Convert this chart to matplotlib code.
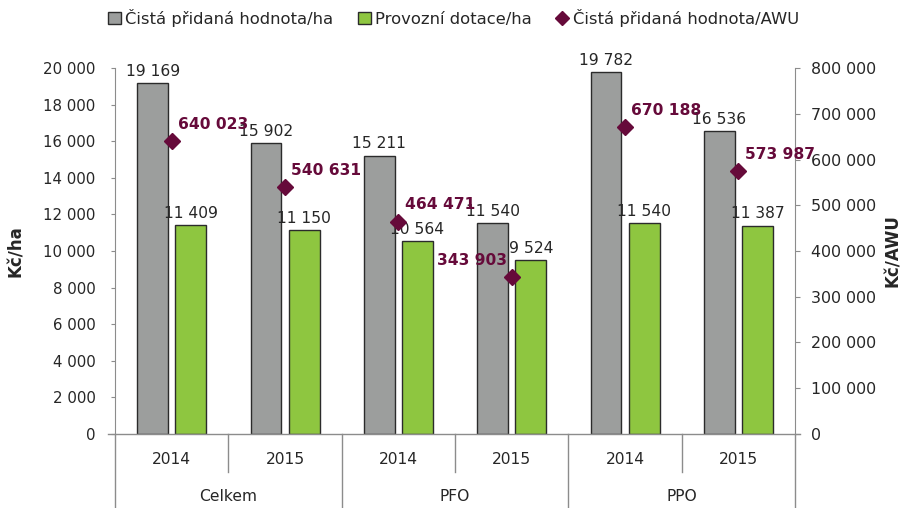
import numpy as np
import matplotlib.pyplot as plt
import matplotlib.transforms as mtransforms
from matplotlib.lines import Line2D
from matplotlib.patches import Patch

plt.rcParams['font.family'] = ['DejaVu Sans']

groups = ['Celkem', 'PFO', 'PPO']
years = ['2014', '2015', '2014', '2015', '2014', '2015']
cpv_ha = [19169, 15902, 15211, 11540, 19782, 16536]
dotace_ha = [11409, 11150, 10564, 9524, 11540, 11387]
cpv_awu = [640023, 540631, 464471, 343903, 670188, 573987]

GRAY = '#9C9E9D'
GREEN = '#8EC640'
MAROON = '#660A3A'
AXC = '#8C8C8C'
TXT = '#262626'
FS = 11.2


def fmt(v):
    return f'{v:,}'.replace(',', ' ')


fig = plt.figure(figsize=(9.08, 5.08), dpi=100)
ax = fig.add_axes([0.1267, 0.1457, 0.7489, 0.7204])
ax2 = ax.twinx()

x = np.arange(len(years))
w = 0.273
off = 0.168

ax.bar(x - off, cpv_ha, w, color=GRAY, edgecolor='#2B2B2B', linewidth=1, zorder=2)
ax.bar(x + off, dotace_ha, w, color=GREEN, edgecolor='#2B2B2B', linewidth=1, zorder=2)

for i in range(len(x)):
    ax.annotate(fmt(cpv_ha[i]), (x[i] - off, cpv_ha[i]), xytext=(0, 3),
                textcoords='offset points', ha='center', va='bottom',
                fontsize=FS, color=TXT)
    ax.annotate(fmt(dotace_ha[i]), (x[i] + off, dotace_ha[i]), xytext=(0, 3),
                textcoords='offset points', ha='center', va='bottom',
                fontsize=FS, color=TXT)

ax2.plot(x, cpv_awu, 'D', color=MAROON, markersize=8, zorder=3)
for i in range(len(x)):
    if i == 3:
        ax2.annotate(fmt(cpv_awu[i]), (x[i], cpv_awu[i]), xytext=(-3.5, 11.5),
                     textcoords='offset points', ha='right', va='center',
                     fontsize=FS, fontweight='bold', color=MAROON)
    else:
        ax2.annotate(fmt(cpv_awu[i]), (x[i], cpv_awu[i]), xytext=(4.5, 12),
                     textcoords='offset points', ha='left', va='center',
                     fontsize=FS, fontweight='bold', color=MAROON)

ax.set_xlim(-0.5, 5.5)
ax.set_ylim(0, 20000)
ax2.set_ylim(0, 800000)
ax.set_yticks(np.arange(0, 20001, 2000))
ax2.set_yticks(np.arange(0, 800001, 100000))
ax.set_yticklabels([fmt(v) for v in range(0, 20001, 2000)])
ax2.set_yticklabels([fmt(v) for v in range(0, 800001, 100000)])

for s in ['top', 'right', 'bottom']:
    ax.spines[s].set_visible(False)
for s in ['top', 'left', 'bottom']:
    ax2.spines[s].set_visible(False)
ax.spines['left'].set_color(AXC)
ax2.spines['right'].set_color(AXC)
# horizontal axis line, sticking out a little on both sides
ax.add_line(Line2D([-0.011, 1.008], [0, 0], transform=ax.transAxes, color=AXC,
                   linewidth=1, clip_on=False, zorder=3))

ax.tick_params(axis='y', length=3, color=AXC, labelsize=10.8, labelcolor=TXT, pad=11)
ax2.tick_params(axis='y', length=3.5, color=AXC, labelsize=11.4, labelcolor=TXT, pad=8)
ax.tick_params(axis='x', length=0, labelbottom=False)

ax.set_ylabel('Kč/ha', fontsize=12, fontweight='bold', color=TXT)
ax2.set_ylabel('Kč/AWU', fontsize=12, fontweight='bold', color=TXT)
ax.yaxis.set_label_coords(-0.133, 0.5)
ax2.yaxis.set_label_coords(1.131, 0.5)

# two-level category axis
trans = mtransforms.blended_transform_factory(ax.transData, ax.transAxes)
for i in range(len(x)):
    ax.text(x[i], -0.071, years[i], transform=trans, ha='center', va='center',
            fontsize=FS, color=TXT)
for g in range(len(groups)):
    ax.text(2 * g + 0.5, -0.172, groups[g], transform=trans, ha='center',
            va='center', fontsize=FS, color=TXT)
for b in np.arange(-0.5, 6, 1):
    bottom = -0.202 if (b + 0.5) % 2 == 0 else -0.104
    ax.add_line(Line2D([b, b], [0, bottom], transform=trans, color=AXC,
                       linewidth=1, clip_on=False))

handles = [
    Patch(facecolor=GRAY, edgecolor='#2B2B2B', linewidth=1),
    Patch(facecolor=GREEN, edgecolor='#2B2B2B', linewidth=1),
    Line2D([], [], marker='D', color=MAROON, linestyle='none', markersize=7),
]
labels = ['Čistá přidaná hodnota/ha', 'Provozní dotace/ha', 'Čistá přidaná hodnota/AWU']
fig.legend(handles, labels, loc='center', bbox_to_anchor=(0.4995, 0.965), ncol=3,
           frameon=False, fontsize=11.8, handlelength=0.78, handleheight=0.78,
           handletextpad=0.25, columnspacing=1.5, labelcolor=TXT)

fig.savefig('out.png', dpi=100)
